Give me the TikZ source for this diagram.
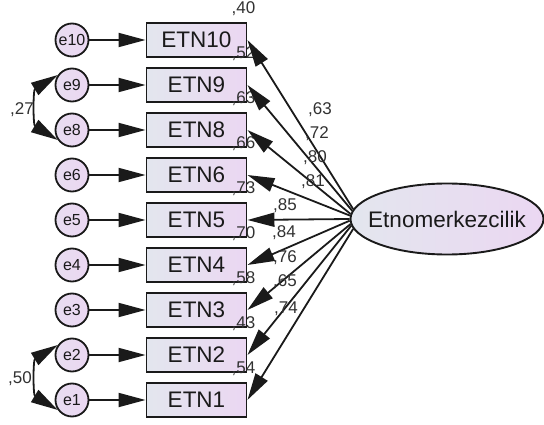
\documentclass[tikz,border=0pt]{standalone}
\usepackage{fontspec}
\setmainfont{Liberation Sans}
\usetikzlibrary{arrows.meta,shapes.geometric}
\definecolor{ink}{HTML}{1A1A1A}
\definecolor{shadeL}{HTML}{E3E6EE}
\definecolor{shadeR}{HTML}{EBD7F2}
\tikzset{
  obs/.style={draw=ink, line width=1.9pt, left color=shadeL, right color=shadeR,
    minimum width=100pt, minimum height=34pt, inner sep=0pt,
    font=\fontsize{22.5}{22.5}\selectfont, text=ink},
  err/.style={circle, draw=ink, line width=1.8pt, left color=shadeL!40!shadeR,
    right color=shadeR, minimum size=33pt, inner sep=0pt,
    font=\fontsize{16}{16}\selectfont, text=ink},
  lat/.style={ellipse, draw=ink, line width=1.9pt, left color=shadeL, right color=shadeR,
    minimum width=193pt, minimum height=71pt, inner sep=0pt},
  latname/.style={font=\fontsize{22.5}{22.5}\selectfont, text=ink, inner sep=0pt},
  tip/.tip={Triangle[length=27pt,width=14pt]},
  reg/.style={draw=ink, line width=1.8pt, -tip},
  cov/.style={draw=ink, line width=1.8pt, tip-tip},
  est/.style={font=\fontsize{17}{17}\selectfont, text=ink!90, inner sep=0pt},
}
\begin{document}
\begin{tikzpicture}[x=1pt, y=-1pt]
\useasboundingbox (0,0) rectangle (544,425);

% latent factor (shape and its name kept apart so the text does not widen it)
\node[lat] (F) at (447,219) {};
\node[latname] (Fname) at (F.center) {Etnomerkezcilik};

% indicators and their error terms
\foreach \k/\y in {10/40, 9/85, 8/130, 6/175, 5/220, 4/265, 3/310, 2/355, 1/400} {
  \node[obs] (x\k) at (196.5,\y) {ETN\k};
  \node[err] (e\k) at (72,\y) {e\k};
}
% squared multiple correlations
\foreach \k/\rsq in {10/40, 9/52, 8/63, 6/66, 5/73, 4/70, 3/58, 2/43, 1/54} {
  \node[est, anchor=base east] (r\k) at ([shift={(8,-9)}]x\k.north east) {,\rsq};
}

% error paths
\foreach \k in {10,9,8,6,5,4,3,2,1} {
  \draw[reg] (e\k) -- (x\k.west);
}

% factor loadings
\foreach \k/\a in {10/174, 9/175.5, 8/177, 6/178.5, 5/180, 4/181.5, 3/183, 2/184.5, 1/186} {
  \draw[reg] (F.\a) -- (x\k.east);
}
\node[est, anchor=base west] (l10) at (308,115) {,63};
\node[est, anchor=base west] (l9)  at (305,139) {,72};
\node[est, anchor=base west] (l8)  at (303,163) {,80};
\node[est, anchor=base west] (l6)  at (301,186) {,81};
\node[est, anchor=base west] (l5)  at (273,211) {,85};
\node[est, anchor=base west] (l4)  at (272,237) {,84};
\node[est, anchor=base west] (l3)  at (273,262) {,76};
\node[est, anchor=base west] (l2)  at (273,287) {,65};
\node[est, anchor=base west] (l1)  at (274,313) {,74};

% error covariances
\draw[cov] (e9.145) .. controls (33,90) and (33,125) .. (e8.215);
\node[est, anchor=base west] (c98) at (10,115) {,27};
\draw[cov] (e2.145) .. controls (33,360) and (33,395) .. (e1.215);
\node[est, anchor=base west] (c21) at (8,383) {,50};
\end{tikzpicture}
\end{document}
